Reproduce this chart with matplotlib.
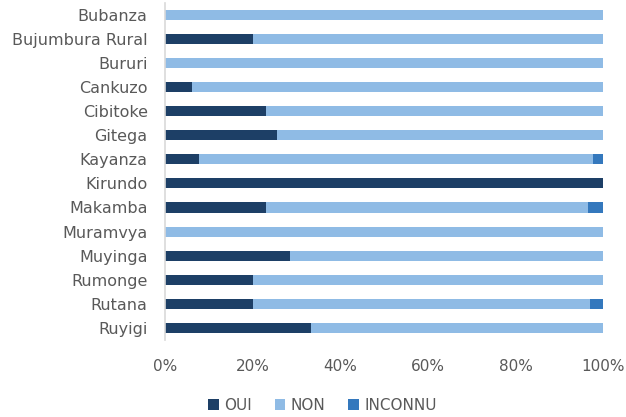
import numpy as np
import matplotlib.pyplot as plt
from matplotlib.ticker import PercentFormatter

plt.rcParams['font.family'] = ['DejaVu Sans']

provinces = ['Bubanza', 'Bujumbura Rural', 'Bururi', 'Cankuzo', 'Cibitoke', 'Gitega',
             'Kayanza', 'Kirundo', 'Makamba', 'Muramvya', 'Muyinga', 'Rumonge',
             'Rutana', 'Ruyigi']
oui = [0, 20, 0, 6.25, 23.1, 25.6, 7.8, 100, 23.1, 0, 28.6, 20, 20, 33.3]
inconnu = [0, 0, 0, 0, 0, 0, 2.3, 0, 3.4, 0, 0, 0, 3.0, 0]
non = [100 - o - i for o, i in zip(oui, inconnu)]

c_oui = '#1d3f66'
c_non = '#8fbbe5'
c_inc = '#3478bd'
grey = '#595959'

fig = plt.figure(figsize=(6.26, 4.17), dpi=100)
ax = fig.add_axes([0.2636, 0.185, 0.7, 0.808])

y = np.arange(len(provinces))
h = 0.42
ax.barh(y, oui, height=h, color=c_oui, label='OUI')
ax.barh(y, non, left=oui, height=h, color=c_non, label='NON')
left2 = [o + n for o, n in zip(oui, non)]
ax.barh(y, inconnu, left=left2, height=h, color=c_inc, label='INCONNU')

ax.set_ylim(len(provinces) - 0.5, -0.5)
ax.set_xlim(0, 100)
ax.set_yticks(y)
ax.set_yticklabels(provinces, fontsize=11.5, color=grey)
ax.set_xticks([0, 20, 40, 60, 80, 100])
ax.xaxis.set_major_formatter(PercentFormatter(decimals=0))
ax.tick_params(axis='x', labelsize=11, labelcolor=grey, length=0, pad=14)
ax.tick_params(axis='y', length=0, pad=12.5)

for s in ['top', 'right', 'bottom']:
    ax.spines[s].set_visible(False)
ax.spines['left'].set_color('#d9d9d9')
ax.spines['left'].set_linewidth(1.2)

leg = fig.legend(loc='center', bbox_to_anchor=(0.515, 0.028), ncol=3, frameon=False,
                 fontsize=11, handlelength=0.7, handleheight=0.7, handletextpad=0.35,
                 columnspacing=1.5)
for t in leg.get_texts():
    t.set_color(grey)

fig.savefig('out.png', dpi=100)
